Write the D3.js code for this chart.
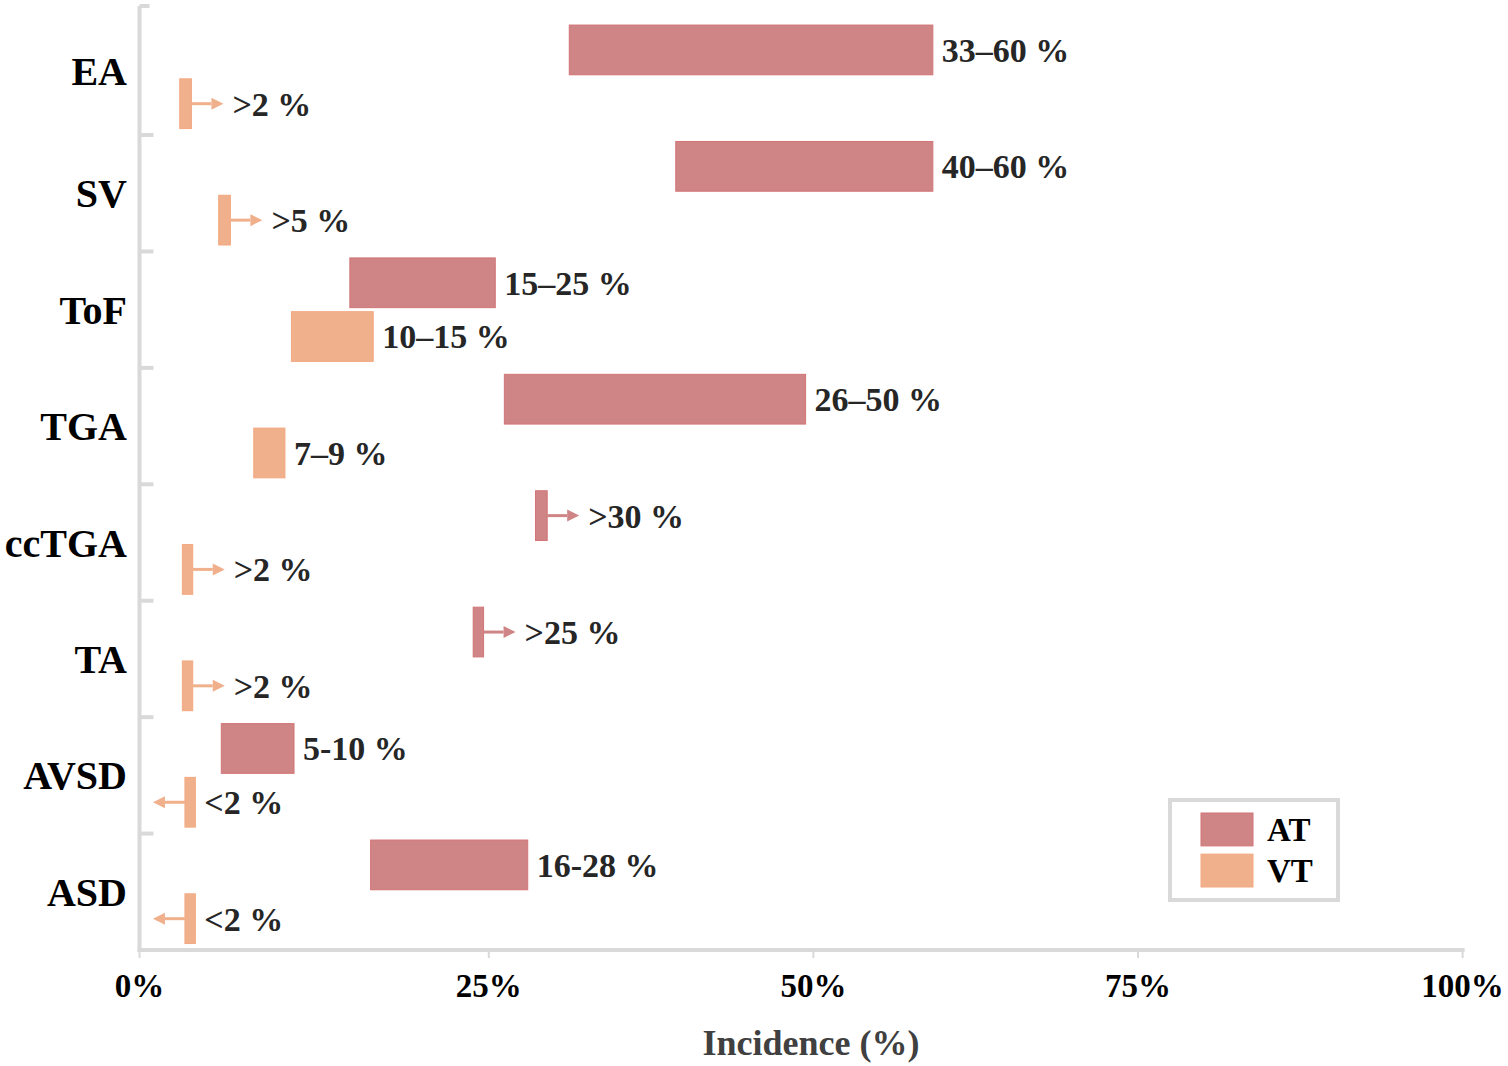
<!DOCTYPE html>
<html>
<head>
<meta charset="utf-8">
<script src="https://cdnjs.cloudflare.com/ajax/libs/d3/7.8.5/d3.min.js"></script>
<style>
  body { margin: 0; background: #fff; }
  text { font-family: "Liberation Serif", "Times New Roman", serif; font-weight: bold; }
</style>
</head>
<body>
<div id="chart"></div>
<script>
// categories top to bottom
var categories = ["EA", "SV", "ToF", "TGA", "ccTGA", "TA", "AVSD", "ASD"];
var series = ["AT", "VT"];

// bar extents (percent), start and end
var atStart = [31.2, 39.4, 14.3, 26.2, 28.6, 23.8, 4.4, 15.9];
var atEnd   = [59.2, 59.2, 25.5, 49.4, 29.5, 24.6, 10.0, 28.0];
var vtStart = [1.2, 4.2, 9.8, 6.9, 1.4, 1.4, 1.6, 1.6];
var vtEnd   = [2.1, 5.1, 16.1, 9.3, 2.2, 2.2, 2.4, 2.4];

// arrows: 1 = open to the right, -1 = open to the left, 0 = none
var atArrow = [0, 0, 0, 0, 1, 1, 0, 0];
var vtArrow = [1, 1, 0, 0, 1, 1, -1, -1];

var atLabel = ["33\u201360 %", "40\u201360 %", "15\u201325 %", "26\u201350 %", ">30 %", ">25 %", "5-10 %", "16-28 %"];
var vtLabel = [">2 %", ">5 %", "10\u201315 %", "7\u20139 %", ">2 %", ">2 %", "<2 %", "<2 %"];

var tickValues = [0, 25, 50, 75, 100];
var tickLabels = ["0%", "25%", "50%", "75%", "100%"];
var xMin = -1.9;

var colors = { AT: "#cf8485", VT: "#f0b08c" };
var strokes = { AT: "#d27577", VT: "#f3a981" };

var width = 1508, height = 1066;
var svg = d3.select("#chart").append("svg")
  .attr("width", width).attr("height", height);

var x = d3.scaleLinear().domain([xMin, 100]).range([139.5, 1462.6]);
var y = d3.scaleBand().domain(categories).range([18.6, 950]);
var ySub = d3.scaleBand().domain(series).range([0, y.bandwidth()])
  .paddingInner(0.075).paddingOuter(0.12);

var grey = "#d9d9d9";

// y axis line + category separators
svg.append("line")
  .attr("x1", x(xMin)).attr("x2", x(xMin))
  .attr("y1", 6).attr("y2", 952)
  .attr("stroke", grey).attr("stroke-width", 4);
var seps = [6].concat(categories.map(function(c){ return y(c) + y.bandwidth(); }));
svg.selectAll(".sep").data(seps.slice(0, -1)).enter().append("line")
  .attr("x1", x(xMin)).attr("x2", function(d, i){ return x(xMin) + (i == 0 ? 10 : 14); })
  .attr("y1", function(d){ return d; }).attr("y2", function(d){ return d; })
  .attr("stroke", grey).attr("stroke-width", 4);

// x axis
svg.append("line")
  .attr("x1", x(xMin) - 2).attr("x2", x(100) + 2)
  .attr("y1", 950).attr("y2", 950)
  .attr("stroke", grey).attr("stroke-width", 4);
var tickPos = tickValues.map(function(v, i){ return i == 0 ? xMin : v; });
svg.selectAll(".xt").data(tickPos).enter().append("line")
  .attr("x1", function(d){ return x(d); }).attr("x2", function(d){ return x(d); })
  .attr("y1", 950).attr("y2", 958)
  .attr("stroke", grey).attr("stroke-width", 2);
svg.selectAll(".xl").data(tickPos).enter().append("text")
  .attr("x", function(d){ return x(d); })
  .attr("y", 997)
  .attr("text-anchor", "middle")
  .attr("font-size", 33)
  .attr("fill", "#000")
  .text(function(d, i){ return tickLabels[i]; });

svg.append("text")
  .attr("x", (x(xMin) + x(100)) / 2 + 10)
  .attr("y", 1055)
  .attr("text-anchor", "middle")
  .attr("font-size", 36)
  .attr("fill", "#404040")
  .text("Incidence (%)");

// category labels, centred between separators
svg.selectAll(".cat").data(categories).enter().append("text")
  .attr("x", 127)
  .attr("y", function(d, i){ return (seps[i] + seps[i + 1]) / 2; })
  .attr("dy", "0.35em")
  .attr("text-anchor", "end")
  .attr("font-size", 40)
  .attr("fill", "#000")
  .text(function(d){ return d; });

// rows
var rows = [];
categories.forEach(function(c, i) {
  rows.push({ cat: c, s: "AT", x0: atStart[i], x1: atEnd[i], arrow: atArrow[i], label: atLabel[i] });
  rows.push({ cat: c, s: "VT", x0: vtStart[i], x1: vtEnd[i], arrow: vtArrow[i], label: vtLabel[i] });
});

var g = svg.selectAll(".row").data(rows).enter().append("g")
  .attr("transform", function(d){ return "translate(0," + (y(d.cat) + ySub(d.s)) + ")"; });

var bh = ySub.bandwidth();
g.append("rect")
  .attr("x", function(d){ return x(d.x0); })
  .attr("width", function(d){ return x(d.x1) - x(d.x0); })
  .attr("height", bh)
  .attr("fill", function(d){ return colors[d.s]; })
  .attr("stroke", function(d){ return strokes[d.s]; })
  .attr("stroke-width", 1);

var arrowLen = 32, headLen = 12, headH = 6;
var arrows = g.filter(function(d){ return d.arrow != 0; });
arrows.append("line")
  .attr("x1", function(d){ return d.arrow > 0 ? x(d.x1) : x(d.x0); })
  .attr("x2", function(d){ return d.arrow > 0 ? x(d.x1) + arrowLen - headLen : x(d.x0) - arrowLen + headLen; })
  .attr("y1", bh / 2).attr("y2", bh / 2)
  .attr("stroke", function(d){ return colors[d.s]; })
  .attr("stroke-width", 3);
arrows.append("path")
  .attr("d", function(d) {
    var tip = d.arrow > 0 ? x(d.x1) + arrowLen : x(d.x0) - arrowLen;
    var base = tip - d.arrow * headLen;
    return "M" + tip + "," + (bh / 2) + "L" + base + "," + (bh / 2 - headH) + "L" + base + "," + (bh / 2 + headH) + "Z";
  })
  .attr("fill", function(d){ return colors[d.s]; });

g.append("text")
  .attr("x", function(d){ return d.arrow > 0 ? x(d.x1) + arrowLen + 9 : x(d.x1) + 9; })
  .attr("y", bh / 2)
  .attr("dy", "0.35em")
  .attr("font-size", 34)
  .attr("fill", "#262626")
  .text(function(d){ return d.label; });

// legend
var leg = svg.append("g");
leg.append("rect")
  .attr("x", 1170).attr("y", 800).attr("width", 168).attr("height", 100)
  .attr("fill", "none").attr("stroke", grey).attr("stroke-width", 4);
var ly = d3.scaleBand().domain(series).range([813, 887]).paddingInner(0.2);
leg.selectAll(".ls").data(series).enter().append("rect")
  .attr("x", 1201).attr("y", function(d){ return ly(d); })
  .attr("width", 52).attr("height", ly.bandwidth())
  .attr("fill", function(d){ return colors[d]; })
  .attr("stroke", function(d){ return strokes[d]; }).attr("stroke-width", 1);
leg.selectAll(".lt").data(series).enter().append("text")
  .attr("x", 1267).attr("y", function(d){ return ly(d) + ly.bandwidth() / 2; })
  .attr("dy", "0.35em")
  .attr("font-size", 33).attr("fill", "#000")
  .text(function(d){ return d; });
</script>
</body>
</html>
